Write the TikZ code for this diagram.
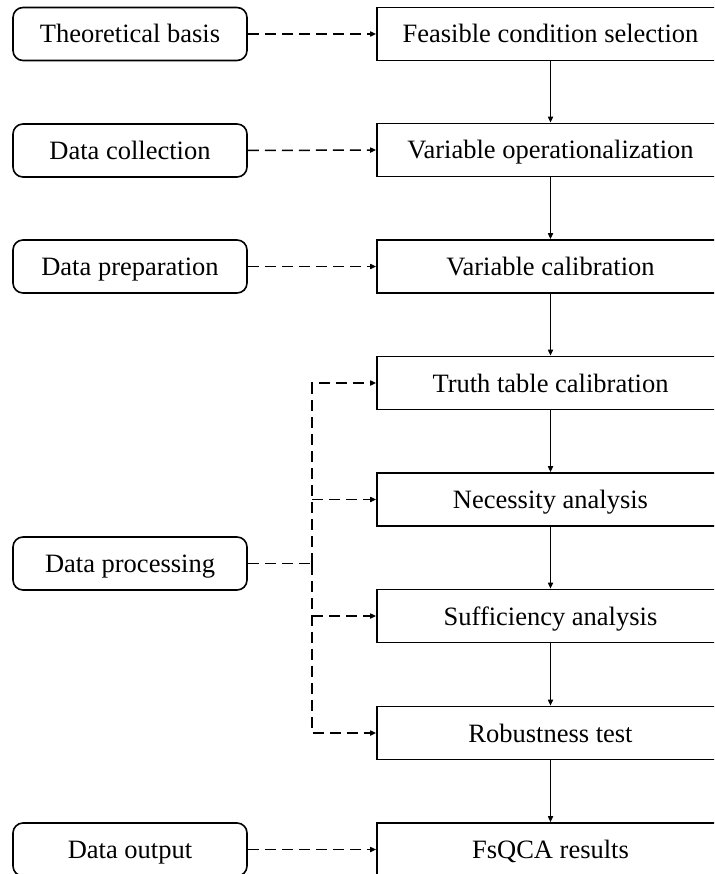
\documentclass[tikz,border=0pt]{standalone}
\usepackage{fontspec}
\setmainfont{Liberation Serif}
\usetikzlibrary{arrows.meta}
\begin{document}
\begin{tikzpicture}[x=1pt,y=-1pt,
  font=\fontsize{26.5}{30}\selectfont,
  boxtext/.style={text height=20pt,text depth=2pt,inner sep=0pt,line width=1.6pt,draw,minimum height=53pt},
  srcbox/.style={boxtext,rounded corners=10pt,minimum width=234pt},
  stepbox/.style={boxtext,minimum width=347pt},
  flow/.style={line width=1.5pt,-{Triangle[length=6pt,width=5pt]}},
  feed/.style={line width=1.5pt,dash pattern=on 11pt off 6pt,-{Triangle[length=6pt,width=5pt]}},
  feedline/.style={line width=1.5pt,dash pattern=on 11pt off 6pt}]
\useasboundingbox (0,0) rectangle (714,874);
\clip (0,0) rectangle (714,874);

% left column: sources
\node[srcbox] (tb) at (130,34)    {Theoretical basis};
\node[srcbox] (dc) at (130,150.5) {Data collection};
\node[srcbox] (dp) at (130,266.5) {Data preparation};
\node[srcbox] (dpr) at (130,563.5) {Data processing};
\node[srcbox] (dout) at (130,849.5) {Data output};

% right column: analysis steps
\node[stepbox] (s1) at (550.5,34)    {Feasible condition selection};
\node[stepbox] (s2) at (550.5,150)   {Variable operationalization};
\node[stepbox] (s3) at (550.5,266.5) {Variable calibration};
\node[stepbox] (s4) at (550.5,383)   {Truth table calibration};
\node[stepbox] (s5) at (550.5,499.5) {Necessity analysis};
\node[stepbox] (s6) at (550.5,616)   {Sufficiency analysis};
\node[stepbox] (s7) at (550.5,733)   {Robustness test};
\node[stepbox] (s8) at (550.5,849.5) {FsQCA results};

% main flow
\foreach \a/\b in {s1/s2,s2/s3,s3/s4,s4/s5,s5/s6,s6/s7,s7/s8}
  \draw[flow] (\a.south) -- (\b.north);

% inputs
\draw[feed] (tb.east) -- (s1.west);
\draw[feed] (dc.east) -- (s2.west);
\draw[feed] (dp.east) -- (s3.west);
\draw[feed] (dout.east) -- (s8.west);

% data processing feeds four steps
\coordinate (j) at (312,563.5);
\draw[feedline] (dpr.east) -- (j);
\draw[feed] (j) -- (j |- s4.west) -- (s4.west);
\draw[feed] (j) -- (j |- s7.west) -- (s7.west);
\draw[feed] (j |- s5.west) -- (s5.west);
\draw[feed] (j |- s6.west) -- (s6.west);
\end{tikzpicture}
\end{document}
